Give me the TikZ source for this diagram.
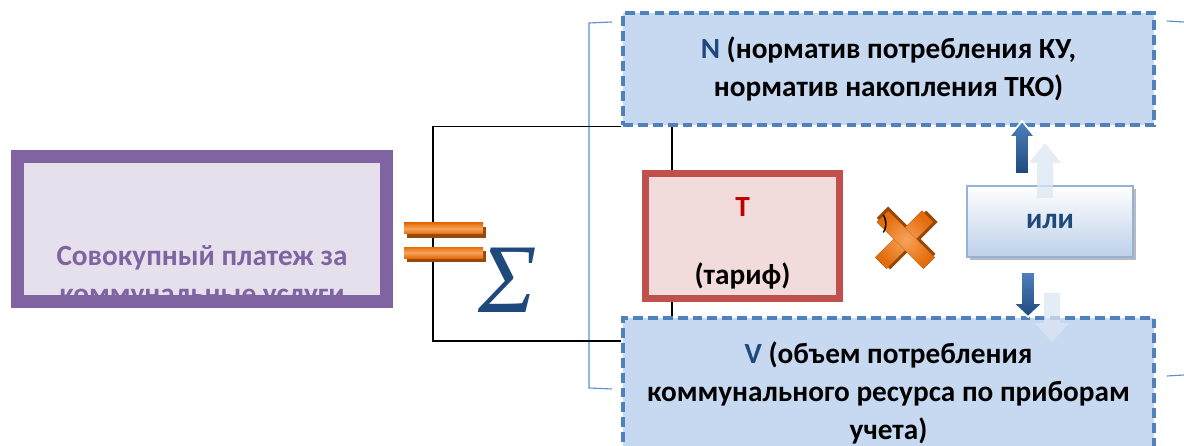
\documentclass[tikz,border=0pt]{standalone}
\usepackage{fontspec}
\setmainfont{Carlito}
\newfontfamily\sigfont{Liberation Serif}
\usetikzlibrary{shadows}
\definecolor{paycol}{HTML}{8064A2}
\definecolor{payfill}{HTML}{E5E0EC}
\definecolor{tarcol}{HTML}{C0504D}
\definecolor{tarfill}{HTML}{F2DCDB}
\definecolor{tartext}{HTML}{C00000}
\definecolor{nblue}{HTML}{1F497D}
\definecolor{boxblue}{HTML}{4F81BD}
\definecolor{boxfill}{HTML}{C6D9F1}
\definecolor{brkblue}{HTML}{5B8FD0}
\definecolor{xorange}{HTML}{E46C0A}
\definecolor{xlight}{HTML}{F7A35C}
\definecolor{xshadow}{HTML}{984807}
\definecolor{ilicol}{HTML}{95B3D7}
\definecolor{ilibot}{HTML}{BCD0E8}
\definecolor{ghost}{HTML}{DCE6F2}
\def\drawframe{\draw[color=black, line width=0.8pt]}
\def\drawbrk{\draw[color=brkblue, line width=0.8pt]}
% block arrow: style, x, shaft half, head half, tail y, head base y, tip y
\newcommand{\blockarr}[7]{\filldraw[#1] ({#2-#3},#5) -- ({#2-#3},#6) -- ({#2-#4},#6) -- (#2,#7) -- ({#2+#4},#6) -- ({#2+#3},#6) -- ({#2+#3},#5) -- cycle;}
\tikzset{
  paybox/.style={fill=payfill, inner sep=0pt, minimum width=9.225cm, minimum height=3.625cm},
  tarbox/.style={draw=tarcol, fill=tarfill, line width=5pt, inner sep=0pt, minimum width=4.85cm, minimum height=3.125cm},
  valbox/.style={draw=boxblue, fill=boxfill, line width=2.3pt, dash pattern=on 7pt off 3.6pt, inner sep=0pt, minimum width=13.275cm},
  ilibox/.style={draw=ilicol, line width=1.4pt, top color=white, bottom color=ilibot, minimum width=4.15cm, minimum height=1.775cm, text=nblue,
    drop shadow={shadow xshift=0.07cm, shadow yshift=-0.07cm, fill=black!45, opacity=0.6}},
  darkarr/.style={draw=white, line width=1.2pt, top color=boxblue, bottom color=nblue},
  ghostarr/.style={fill=ghost, draw=none, fill opacity=0.75},
  bar/.style={top color=xorange, bottom color=xorange, middle color=xlight}
}
\begin{document}
\begin{tikzpicture}[x=0.025cm, y=-0.025cm, every node/.style={font=\bfseries\fontsize{20.8}{27}\selectfont, align=center}]
\clip (0,0) rectangle (1184,446);
\fill[white] (0,0) rectangle (1184,446);
\coordinate (fl) at (433,0);
\coordinate (fr) at (672,0);
\coordinate (fb) at (0,341);
% blue bracket
\drawbrk (612,22) -- (589,23) -- (589,388) -- (612,389);
\drawbrk (1167,21) -- (1184,22);
\drawbrk (1167,376) -- (1184,375);
% left box
\node[paybox] (pay) at (202,229) {};
\begin{scope}
\clip (11,150) rectangle (393,308);
\node[text=paycol] (paylbl) at (202,277) {Совокупный платеж за\\коммунальные услуги};
\end{scope}
\draw[paycol, line width=9.25pt] (pay.south west) rectangle (pay.north east);
% right boxes
\node[valbox, minimum height=2.8cm] (norm) at (888.5,69) {{\color{nblue}N} (норматив потребления КУ,\\норматив накопления ТКО)};
\node[valbox, minimum height=3.75cm] (vol) at (888.5,393) {{\color{nblue}V} (объем потребления\\коммунального ресурса по приборам\\учета)};
\node[tarbox] (tar) at (742.5,236) {};
\node[anchor=base, text=tartext] (tarsym) at (742.5,217) {Т};
\node[anchor=base] (tarname) at (742.5,284) {(тариф)};
\node[ilibox] (ili) at (1050,221.5) {или};
% frame
\drawframe (norm.south west) -| (fl |- fb) -- (vol.west |- fb);
\drawframe (fr |- norm.south) -- (fr |- tar.north);
\drawframe (fr |- tar.south) -- (fr |- vol.north);
% equals sign
\fill[xshadow] (407,227) rectangle (486,238);
\fill[bar] (404,223) rectangle (483,234);
\fill[xshadow] (407,251) rectangle (486,262);
\fill[bar] (404,247) rectangle (483,258);
\node[font=\sigfont\itshape\fontsize{70}{70}\selectfont, text=nblue, inner sep=0pt] (sum) at (508,280.5) {Σ};
% times sign
\coordinate (times) at (905,239);
\begin{scope}[shift={(times)}]
\foreach \a in {45,135} {\fill[xshadow, rotate=\a] (-32,-5) rectangle (35,11);}
\foreach \a in {45,135} {\fill[inner color=xlight, outer color=xorange, rotate=\a] (-34,-8) rectangle (32,8);}
\end{scope}
\node[font=\mdseries\fontsize{15}{15}\selectfont, inner sep=0pt] (paren) at (885,224) {)};
% arrows
\blockarr{ghostarr}{1045}{8}{16}{198}{163}{143}
\blockarr{darkarr}{1022}{7}{13}{174}{137}{121}
\blockarr{ghostarr}{1052}{8}{17}{293}{323}{342}
\blockarr{darkarr}{1028}{7}{15}{272}{303}{317}
\end{tikzpicture}
\end{document}
